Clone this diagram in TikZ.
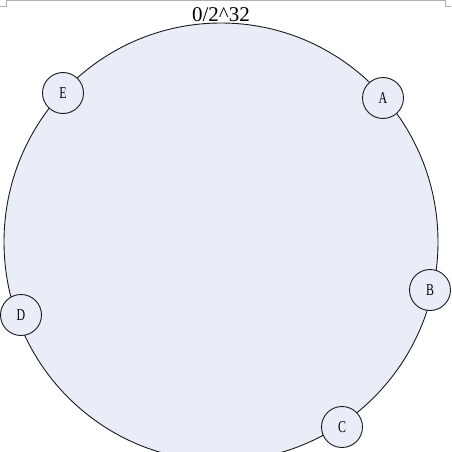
\documentclass[tikz,border=0pt]{standalone}
\usepackage{fontspec}
\setmainfont{Liberation Serif}
\newfontfamily\labelfont[FakeStretch=0.72]{Liberation Serif}
\newfontfamily\topfont[FakeStretch=1.0]{Liberation Serif}
\definecolor{ringfill}{HTML}{E8EDF7}
\definecolor{ringline}{HTML}{1A1A1A}
\definecolor{markgray}{HTML}{B0B0B0}
\tikzset{
  peer/.style={circle, draw=ringline, fill=ringfill, line width=0.9pt, minimum size=41pt, inner sep=0pt, font=\labelfont\fontsize{16.5}{17}\selectfont},
  ring/.style={draw=ringline, fill=ringfill, line width=0.9pt},
  cornermark/.style={draw=markgray, line width=0.9pt}
}
\begin{document}
\begin{tikzpicture}[x=1pt,y=-1pt]
\useasboundingbox (0,0) rectangle (451,452);
\begin{scope}
\clip (0,0) rectangle (451,452);
\draw[ring] (221,242) ellipse [x radius=217, y radius=219];
\end{scope}
\draw[cornermark] (0,6) -- (6,6) -- (6,0.5) -- (445,0.5) -- (445,6) -- (451,6);
\node[font=\topfont\fontsize{21}{22}\selectfont] (title) at (221,15) {0/2\textasciicircum32};
\node[peer] (E) at (63,93) {E};
\node[peer] (A) at (383,98) {A};
\node[peer] (B) at (430,290) {B};
\node[peer] (D) at (21,315) {D};
\node[peer] (C) at (342,427) {C};
\end{tikzpicture}
\end{document}
